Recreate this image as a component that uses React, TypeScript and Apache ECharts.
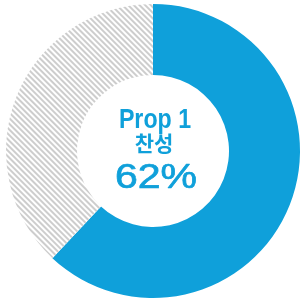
import React, { useEffect, useRef } from "react";
import * as echarts from "echarts";

const categories = ["찬성", "반대"];
const values = [62, 38];
const propName = "Prop 1";
const centerLabel = "찬성";
const centerValue = "62%";

const BLUE = "#0fa0da";

export default function App() {
  const ref = useRef<HTMLDivElement>(null);
  useEffect(() => {
    if (!ref.current) return;
    const chart = echarts.init(ref.current, null, { renderer: "svg" });
    chart.setOption({
      animation: false,
      series: [
        {
          type: "pie",
          center: [153, 151],
          radius: [76, 147],
          startAngle: 90,
          clockwise: true,
          label: { show: false },
          labelLine: { show: false },
          emphasis: { disabled: true },
          silent: true,
          data: categories.map((c, i) => ({
            name: c,
            value: values[i],
            itemStyle:
              i === 0
                ? { color: BLUE }
                : {
                    color: "#ffffff",
                    decal: {
                      symbol: "rect",
                      symbolSize: 1,
                      color: "#cdcdcd",
                      dashArrayX: [1, 0],
                      dashArrayY: [1.9, 1.6],
                      rotation: Math.PI / 4,
                    },
                  },
          })),
        },
      ],
      graphic: [
        {
          type: "text",
          x: 155,
          y: 118,
          scaleX: 0.86,
          style: {
            text: propName,
            fill: BLUE,
            font: "bold 27px 'Liberation Sans', Arial, sans-serif",
            textAlign: "center",
            textVerticalAlign: "middle",
          },
        },
        {
          type: "text",
          x: 154,
          y: 142,
          style: {
            text: centerLabel,
            fill: BLUE,
            font: "bold 21px 'Noto Sans CJK KR', sans-serif",
            textAlign: "center",
            textVerticalAlign: "middle",
          },
        },
        {
          type: "text",
          x: 156,
          y: 175,
          scaleX: 1.14,
          style: {
            text: centerValue,
            fill: BLUE,
            stroke: BLUE,
            lineWidth: 0.7,
            font: "36px 'Liberation Sans', Arial, sans-serif",
            textAlign: "center",
            textVerticalAlign: "middle",
          },
        },
      ],
    });
    return () => chart.dispose();
  }, []);
  return (
    <div
      ref={ref}
      style={{ position: "fixed", left: 0, top: 0, width: 302, height: 301 }}
    />
  );
}
